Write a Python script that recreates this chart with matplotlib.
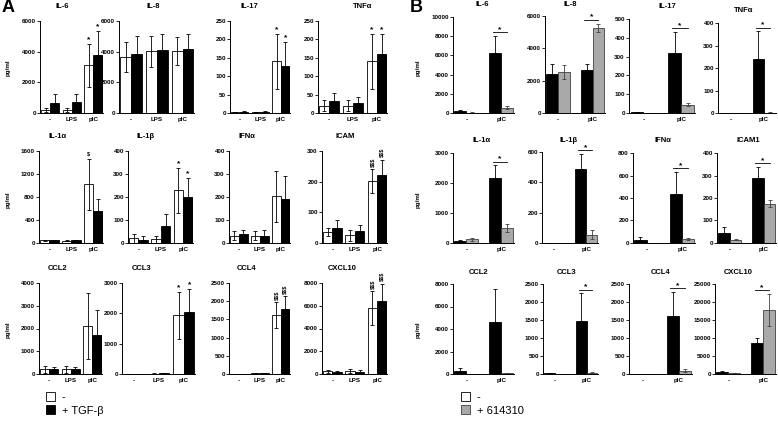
import numpy as np
import matplotlib.pyplot as plt
from matplotlib.patches import Patch

plt.rcParams['font.family'] = ['Liberation Sans', 'DejaVu Sans']
plt.rcParams['font.weight'] = 'bold'

W, H = 778, 424

cats_a = ['-', 'LPS', 'pIC']
cats_b = ['-', 'pIC']

# %% panel A : white = "-", black = "+ TGF-b"  (mean / error)
il6_a_w = [220, 220, 3100]
il6_a_we = [130, 130, 1400]
il6_a_k = [670, 720, 3800]
il6_a_ke = [590, 540, 1550]

il8_a_w = [3650, 4040, 4040]
il8_a_we = [980, 1010, 930]
il8_a_k = [3870, 4090, 4200]
il8_a_ke = [1180, 1080, 970]

il17_a_w = [3, 3, 141]
il17_a_we = [1, 1, 75]
il17_a_k = [4, 4, 128]
il17_a_ke = [1, 1, 65]

tnf_a_w = [20, 20, 141]
tnf_a_we = [14, 14, 75]
tnf_a_k = [33, 27, 159]
tnf_a_ke = [21, 16, 57]

il1a_a_w = [46, 40, 1020]
il1a_a_we = [8, 6, 440]
il1a_a_k = [50, 45, 556]
il1a_a_ke = [8, 6, 214]

il1b_a_w = [20, 17, 229]
il1b_a_we = [21, 15, 99]
il1b_a_k = [15, 72, 200]
il1b_a_ke = [14, 53, 84]

ifna_a_w = [32, 32, 203]
ifna_a_we = [19, 20, 110]
ifna_a_k = [38, 32, 193]
ifna_a_ke = [20, 23, 97]

icam_a_w = [36, 25, 201]
icam_a_we = [14, 17, 39]
icam_a_k = [50, 38, 223]
icam_a_ke = [24, 20, 49]

ccl2_a_w = [204, 204, 2100]
ccl2_a_we = [146, 146, 1450]
ccl2_a_k = [204, 204, 1710]
ccl2_a_ke = [86, 86, 1120]

ccl3_a_w = [10, 15, 1940]
ccl3_a_we = [3, 5, 770]
ccl3_a_k = [10, 25, 2050]
ccl3_a_ke = [3, 6, 760]

ccl4_a_w = [10, 15, 1620]
ccl4_a_we = [3, 4, 350]
ccl4_a_k = [10, 30, 1775]
ccl4_a_ke = [3, 6, 360]

cxcl10_a_w = [235, 290, 5800]
cxcl10_a_we = [145, 170, 1470]
cxcl10_a_k = [150, 180, 6390]
cxcl10_a_ke = [140, 200, 1530]

# %% panel B : black = "-", grey = "+ 614310"
il6_b_k = [175, 6220]
il6_b_ke = [175, 1820]
il6_b_g = [30, 560]
il6_b_ge = [30, 140]

il8_b_k = [2400, 2650]
il8_b_ke = [620, 410]
il8_b_g = [2525, 5280]
il8_b_ge = [440, 250]

il17_b_k = [4, 321]
il17_b_ke = [2, 109]
il17_b_g = [0, 45]
il17_b_ge = [0, 6]

tnf_b_k = [0, 241]
tnf_b_ke = [0, 123]
tnf_b_g = [0, 2]
tnf_b_ge = [0, 1]

il1a_b_k = [78, 2170]
il1a_b_ke = [10, 420]
il1a_b_g = [122, 511]
il1a_b_ge = [50, 133]

il1b_b_k = [0, 490]
il1b_b_ke = [0, 99]
il1b_b_g = [0, 55]
il1b_b_ge = [0, 29]

ifna_b_k = [30, 438]
ifna_b_ke = [26, 193]
ifna_b_g = [0, 36]
ifna_b_ge = [0, 6]

icam_b_k = [44, 289]
icam_b_ke = [27, 49]
icam_b_g = [15, 175]
icam_b_ge = [3, 17]

ccl2_b_k = [295, 4660]
ccl2_b_ke = [235, 2890]
ccl2_b_g = [20, 60]
ccl2_b_ge = [5, 10]

ccl3_b_k = [15, 1476]
ccl3_b_ke = [5, 764]
ccl3_b_g = [5, 40]
ccl3_b_ge = [2, 15]

ccl4_b_k = [0, 1614]
ccl4_b_ke = [0, 674]
ccl4_b_g = [0, 92]
ccl4_b_ge = [0, 45]

cxcl10_b_k = [460, 8520]
cxcl10_b_ke = [270, 1550]
cxcl10_b_g = [200, 17860]
cxcl10_b_ge = [60, 4390]

fig = plt.figure(figsize=(W / 100, H / 100), dpi=100)


def add_ax(l, r, t, b):
    return fig.add_axes([l / W, 1 - b / H, (r - l) / W, (b - t) / H])


def style(ax, ymax, step, cats):
    for s in ['top', 'right']:
        ax.spines[s].set_visible(False)
    for s in ['left', 'bottom']:
        ax.spines[s].set_linewidth(0.7)
    ax.set_ylim(0, ymax)
    ax.set_yticks(np.arange(0, ymax + 1, step))
    ax.set_xticks(range(len(cats)))
    ax.set_xticklabels(cats)
    ax.tick_params(axis='y', labelsize=4.5, length=2, width=0.6, pad=1)
    ax.tick_params(axis='x', labelsize=4.5, length=0, pad=3)


ekw = dict(elinewidth=0.6, capthick=0.6)


def panel_a(box, title, tx, w, we, k, ke, ymax, step, marks):
    ax = add_ax(*box)
    x = np.arange(3)
    ax.bar(x - 0.21, w, 0.42, color='white', edgecolor='black', lw=0.6,
           yerr=we, capsize=1.5, error_kw=ekw)
    ax.bar(x + 0.21, k, 0.42, color='black', edgecolor='black', lw=0.6,
           yerr=[[0] * 3, ke], capsize=1.5, error_kw=ekw)
    ax.set_xlim(-0.47, 2.44)
    style(ax, ymax, step, cats_a)
    for xm, top, m in [(2 - 0.21, w[2] + we[2], marks[0]),
                       (2 + 0.21, k[2] + ke[2], marks[1])]:
        if m == '*':
            ax.text(xm, top + 0.005 * ymax, m, ha='center', va='bottom',
                    fontsize=6, clip_on=False)
        elif m:
            rot = 90 if len(m) > 1 else 0
            ax.text(xm, top + 0.03 * ymax, m, ha='center', va='bottom',
                    fontsize=4, rotation=rot, clip_on=False)
    fig.text(tx / W, 1 - (box[2] - 14) / H, title, ha='center', va='center',
             fontsize=5.5)
    return ax


def panel_b(box, title, tx, k, ke, g, ge, ymax, step, star=True):
    ax = add_ax(*box)
    x = np.arange(2)
    ax.bar(x - 0.17, k, 0.34, color='black', edgecolor='black', lw=0.6,
           yerr=[[0] * 2, ke], capsize=1.5, error_kw=ekw)
    ax.bar(x + 0.17, g, 0.34, color='#a9a9a9', edgecolor='#404040', lw=0.6,
           yerr=ge, capsize=1.5, error_kw=dict(ecolor='#404040', **ekw))
    ax.set_xlim(-0.38, 1.36)
    style(ax, ymax, step, cats_b)
    if star:
        yl = max(k[1] + ke[1], g[1] + ge[1]) + 0.04 * ymax
        ax.plot([1 - 0.25, 1 + 0.17], [yl, yl], color='black', lw=0.6,
                clip_on=False)
        ax.text(1 - 0.04, yl - 0.01 * ymax, '*', ha='center', va='bottom',
                fontsize=6, clip_on=False)
    fig.text(tx / W, 1 - (box[2] - 12) / H, title, ha='center', va='center',
             fontsize=5.5)
    return ax


# %% panel A
panel_a((40, 103, 21, 113), 'IL-6', 62, il6_a_w, il6_a_we, il6_a_k, il6_a_ke, 6000, 2000, ('*', '*'))
panel_a((119, 194, 21, 113), 'IL-8', 153, il8_a_w, il8_a_we, il8_a_k, il8_a_ke, 6000, 2000, ('', ''))
panel_a((230, 290, 21, 113), 'IL-17', 249, il17_a_w, il17_a_we, il17_a_k, il17_a_ke, 250, 50, ('*', '*'))
panel_a((318, 387, 21, 113), 'TNFα', 363, tnf_a_w, tnf_a_we, tnf_a_k, tnf_a_ke, 250, 50, ('*', '*'))

panel_a((39, 103, 151, 243), 'IL-1α', 58, il1a_a_w, il1a_a_we, il1a_a_k, il1a_a_ke, 1600, 400, ('$', ''))
panel_a((128, 193, 151, 243), 'IL-1β', 146, il1b_a_w, il1b_a_we, il1b_a_k, il1b_a_ke, 400, 100, ('*', '*'))
panel_a((229, 290, 151, 243), 'IFNα', 247, ifna_a_w, ifna_a_we, ifna_a_k, ifna_a_ke, 400, 100, ('', ''))
panel_a((322, 387, 151, 243), 'ICAM', 345, icam_a_w, icam_a_we, icam_a_k, icam_a_ke, 300, 100, ('$$$', '$$$'))

panel_a((39, 102, 283, 374), 'CCL2', 58, ccl2_a_w, ccl2_a_we, ccl2_a_k, ccl2_a_ke, 4000, 1000, ('', ''))
panel_a((122, 195, 283, 374), 'CCL3', 142, ccl3_a_w, ccl3_a_we, ccl3_a_k, ccl3_a_ke, 3000, 1000, ('*', '*'))
panel_a((229, 290, 283, 374), 'CCL4', 247, ccl4_a_w, ccl4_a_we, ccl4_a_k, ccl4_a_ke, 2500, 500, ('$$$', '$$$'))
panel_a((322, 387, 283, 374), 'CXCL10', 342, cxcl10_a_w, cxcl10_a_we, cxcl10_a_k, cxcl10_a_ke, 8000, 2000, ('$$$', '$$$'))

# %% panel B
panel_b((453, 514, 17, 113), 'IL-6', 482, il6_b_k, il6_b_ke, il6_b_g, il6_b_ge, 10000, 2000)
panel_b((545, 605, 16, 113), 'IL-8', 570, il8_b_k, il8_b_ke, il8_b_g, il8_b_ge, 6000, 2000)
panel_b((629, 695, 19, 113), 'IL-17', 667, il17_b_k, il17_b_ke, il17_b_g, il17_b_ge, 500, 100)
panel_b((718, 776, 23, 113), 'TNFα', 744, tnf_b_k, tnf_b_ke, tnf_b_g, tnf_b_ge, 400, 100)

panel_b((453, 514, 153, 243), 'IL-1α', 482, il1a_b_k, il1a_b_ke, il1a_b_g, il1a_b_ge, 3000, 1000)
panel_b((542, 598, 152, 243), 'IL-1β', 569, il1b_b_k, il1b_b_ke, il1b_b_g, il1b_b_ge, 600, 200)
panel_b((633, 695, 153, 243), 'IFNα', 663, ifna_b_k, ifna_b_ke, ifna_b_g, ifna_b_ge, 800, 200)
panel_b((717, 776, 153, 243), 'ICAM1', 748, icam_b_k, icam_b_ke, icam_b_g, icam_b_ge, 400, 100)

panel_b((453, 514, 284, 374), 'CCL2', 479, ccl2_b_k, ccl2_b_ke, ccl2_b_g, ccl2_b_ge, 8000, 2000, star=False)
panel_b((543, 598, 284, 374), 'CCL3', 567, ccl3_b_k, ccl3_b_ke, ccl3_b_g, ccl3_b_ge, 2500, 500)
panel_b((629, 692, 284, 374), 'CCL4', 661, ccl4_b_k, ccl4_b_ke, ccl4_b_g, ccl4_b_ge, 2500, 500)
panel_b((715, 776, 284, 374), 'CXCL10', 738, cxcl10_b_k, cxcl10_b_ke, cxcl10_b_g, cxcl10_b_ge, 25000, 5000)

# %% labels
fig.text(2 / W, 1 - 8 / H, 'A', fontsize=13, ha='left', va='center')
fig.text(410 / W, 1 - 8 / H, 'B', fontsize=13, ha='left', va='center')
for xp in [8, 418]:
    for yp in [68, 200, 330]:
        fig.text(xp / W, 1 - yp / H, 'pg/ml', rotation=90, fontsize=4.5,
                 ha='center', va='center')

leg_a = [Patch(facecolor='white', edgecolor='black', lw=0.6),
         Patch(facecolor='black', edgecolor='black', lw=0.6)]
fig.legend(leg_a, ['-', '+ TGF-β'], loc='upper left',
           bbox_to_anchor=(36 / W, 1 - 382 / H), frameon=False,
           prop={'size': 8, 'weight': 'normal'}, handlelength=0.8,
           handleheight=0.9, handletextpad=0.6, labelspacing=0.25)
leg_b = [Patch(facecolor='white', edgecolor='black', lw=0.6),
         Patch(facecolor='#a9a9a9', edgecolor='#404040', lw=0.6)]
fig.legend(leg_b, ['-', '+ 614310'], loc='upper left',
           bbox_to_anchor=(451 / W, 1 - 382 / H), frameon=False,
           prop={'size': 8, 'weight': 'normal'}, handlelength=0.8,
           handleheight=0.9, handletextpad=0.6, labelspacing=0.25)

plt.savefig('out.png', dpi=100)
